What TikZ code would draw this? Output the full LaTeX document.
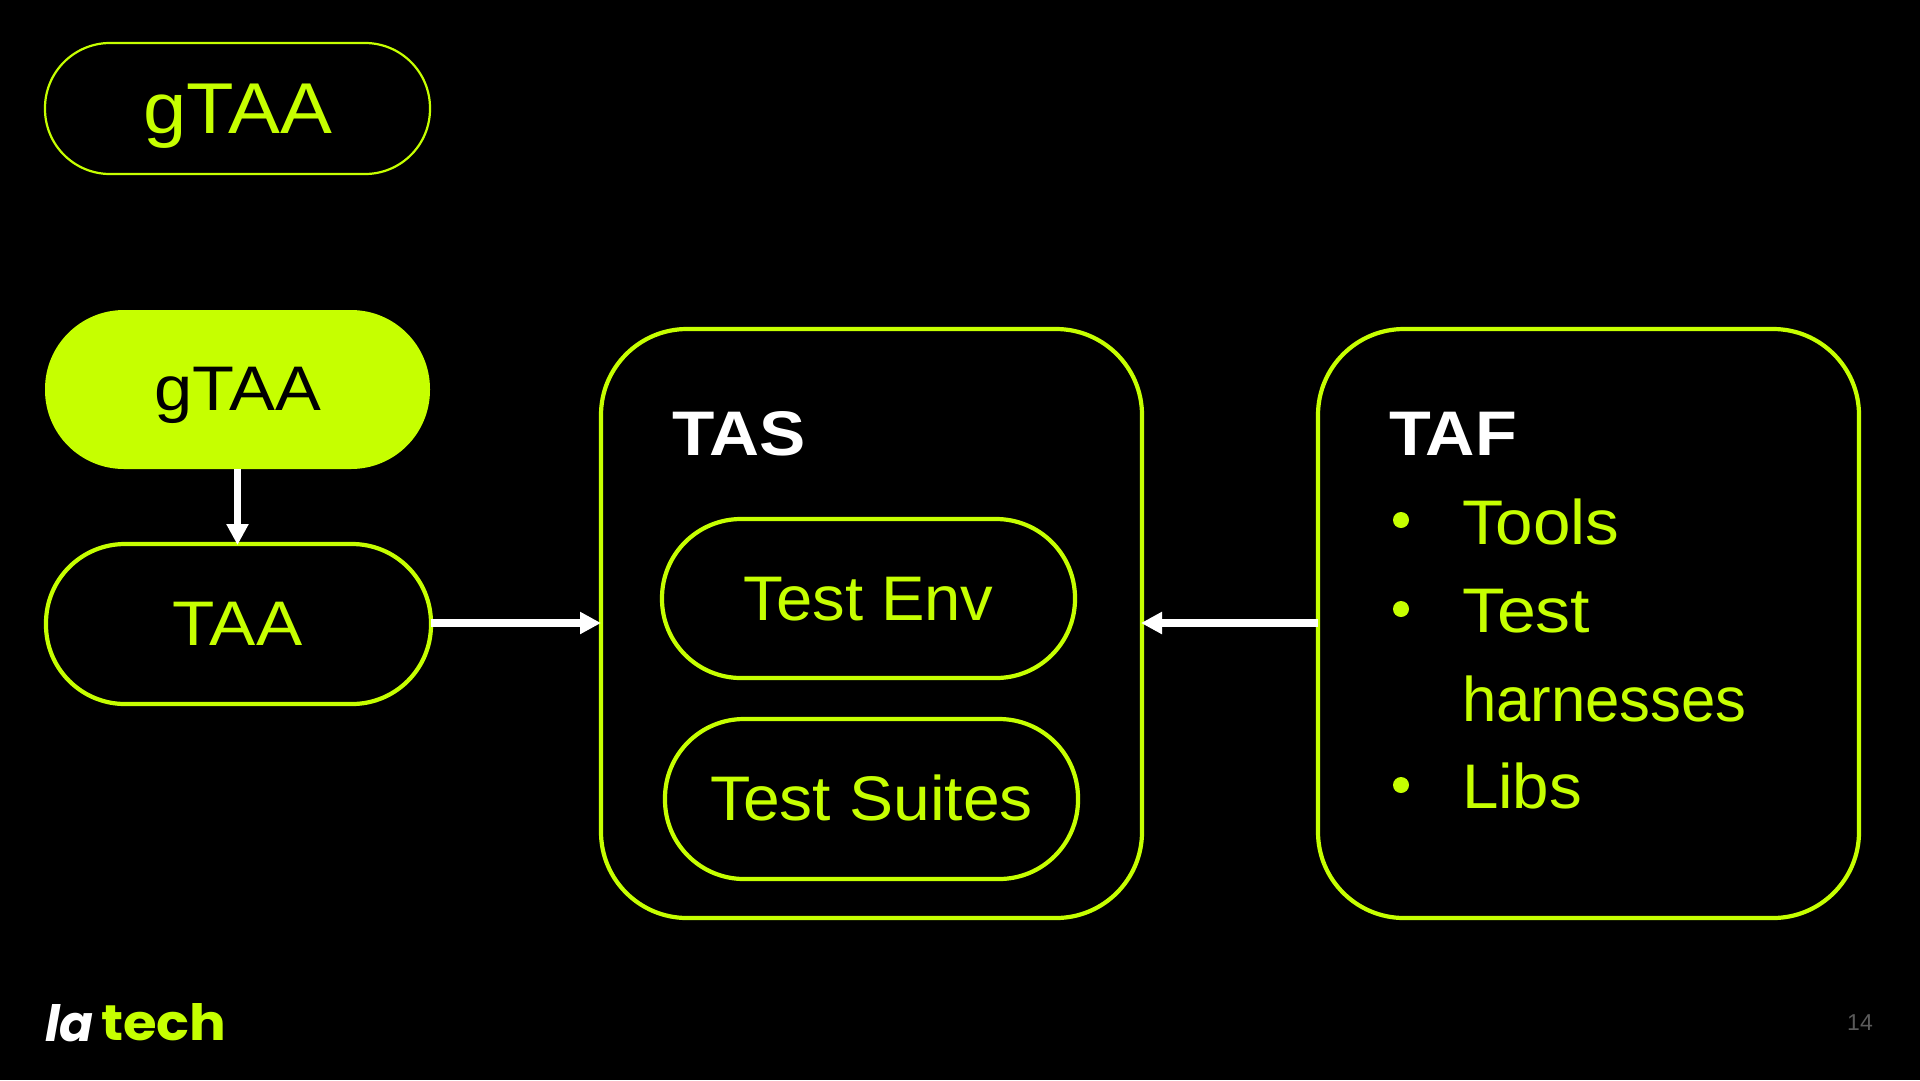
\documentclass[tikz,border=0pt]{standalone}
\usepackage{fontspec}
\usepackage{graphicx}
\setmainfont{Liberation Sans}
\newfontfamily\logofont{Poppins}
\usetikzlibrary{arrows.meta}
\definecolor{lime}{HTML}{C6FF00}
\definecolor{pageno}{HTML}{5A5A5A}
\newcommand{\widen}[2]{\scalebox{#1}[1]{#2}}
\tikzset{
  x=1pt,y=-1pt,
  pill/.style={draw=lime,line width=4.2pt,fill=black,rounded corners=#1},
  label/.style={inner sep=0pt,outer sep=0pt,text=lime,font=\fontsize{63}{63}\selectfont,anchor=base},
  listitem/.style={inner sep=0pt,outer sep=0pt,text=lime,font=\fontsize{63}{63}\selectfont,anchor=base west},
  heading/.style={inner sep=0pt,outer sep=0pt,text=white,font=\bfseries\fontsize{63}{63}\selectfont,anchor=base west},
  conn/.style={draw=white,line width=7.3pt,-{Triangle[length=21pt,width=21pt]},shorten >=-1pt},
  dot/.style={circle,fill=lime,inner sep=0pt,minimum size=16pt}
}
\begin{document}
\begin{tikzpicture}
\useasboundingbox (0,0) rectangle (1920,1080);
\fill[black] (0,0) rectangle (1920,1080);
% outline header pill
\draw[draw=lime,line width=2.2pt,rounded corners=65pt] (45,43) rectangle (430,174);
\node[label,font=\fontsize{72}{72}\selectfont] (head) at (237.5,133) {\widen{1.08}{gTAA}};
% filled pill
\fill[lime,rounded corners=79pt] (45,310) rectangle (430,469);
\coordinate (gb) at (237.5,469);
\node[label,text=black] (g) at (237.5,410) {\widen{1.09}{gTAA}};
% TAA pill
\draw[pill=79pt] (46,544) rectangle (431,704);
\coordinate (ta) at (237.5,544);
\coordinate (tr) at (431,623);
\node[label] (taa) at (237.5,645) {\widen{1.10}{TAA}};
% TAS
\draw[pill=86pt] (601,329) rectangle (1142,918);
\coordinate (sl) at (600,623);
\coordinate (sr) at (1142,623);
\node[heading] (tas) at (672,455) {\widen{1.10}{TAS}};
\draw[pill=79pt] (662,519) rectangle (1075,678);
\node[label] (env) at (868.5,620) {\widen{1.035}{Test Env}};
\draw[pill=79pt] (665,719) rectangle (1078,879);
\node[label] (suites) at (871.5,820) {\widen{1.048}{Test Suites}};
% TAF
\draw[pill=86pt] (1318,329) rectangle (1859,918);
\coordinate (fl) at (1318,623);
\node[heading] (taf) at (1389,455) {\widen{1.085}{TAF}};
\node[dot] (d1) at (1401,520) {};
\node[listitem] (l1) at (1462,544) {\widen{1.07}{Tools}};
\node[dot] (d2) at (1401,609) {};
\node[listitem] (l2) at (1462,632) {\widen{1.11}{Test}};
\node[listitem] (l3) at (1462,721) {\widen{0.98}{harnesses}};
\node[dot] (d3) at (1401,785) {};
\node[listitem] (l4) at (1462,808) {\widen{1.04}{Libs}};
% connectors
\draw[conn] (gb) -- (ta);
\draw[conn] (tr) -- (sl);
\draw[conn] (fl) -- (sr);
% logo
\node[inner sep=0pt,anchor=base west,text=white,font=\logofont\bfseries\itshape\fontsize{50}{50}\selectfont] (la) at (45,1041) {la};
\node[inner sep=0pt,anchor=base west,text=lime,font=\logofont\bfseries\fontsize{50}{50}\selectfont] (tech) at (101,1040) {\widen{1.09}{tech}};
% page number
\node[inner sep=0pt,anchor=base,text=pageno,font=\fontsize{23}{23}\selectfont] (pg) at (1860,1030) {14};
\end{tikzpicture}
\end{document}
